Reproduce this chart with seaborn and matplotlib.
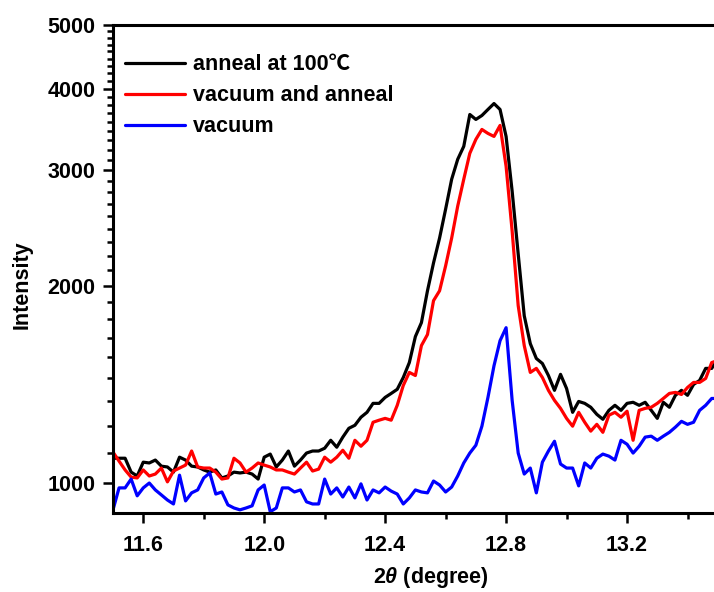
import numpy as np
import pandas as pd
import matplotlib
matplotlib.use("Agg")
import matplotlib.pyplot as plt
from matplotlib.ticker import FixedLocator, NullFormatter, MultipleLocator, FormatStrFormatter
import seaborn as sns

# Scan angles (2-theta, degree), 0.02 step
two_theta = np.round(np.linspace(11.5, 13.5, 101), 2)

anneal = [1091, 1091, 1091, 1039, 1025, 1076, 1073, 1084, 1061, 1058,
          1039, 1095, 1084, 1061, 1058, 1047, 1039, 1047, 1018, 1025,
          1039, 1036, 1039, 1032, 1014, 1095, 1107, 1058, 1084, 1119,
          1061, 1084, 1111, 1119, 1119, 1130, 1162, 1134, 1175, 1212,
          1225, 1260, 1282, 1323, 1323, 1351, 1370, 1390, 1449, 1527,
          1673, 1757, 1965, 2167, 2365, 2618, 2908, 3119, 3264, 3651,
          3588, 3638, 3716, 3794, 3716, 3380, 2789, 2237, 1800, 1632,
          1549, 1522, 1459, 1385, 1465, 1394, 1282, 1332, 1323, 1305,
          1273, 1251, 1291, 1314, 1291, 1323, 1328, 1314, 1328, 1291,
          1255, 1328, 1305, 1361, 1385, 1361, 1414, 1434, 1496, 1496,
          1549]

vacuum_anneal = [1115, 1080, 1047, 1021, 1018, 1047, 1025, 1032, 1054, 1004,
                 1043, 1054, 1065, 1119, 1058, 1054, 1054, 1039, 1014, 1018,
                 1091, 1073, 1039, 1054, 1073, 1065, 1058, 1047, 1047, 1039,
                 1032, 1054, 1076, 1043, 1050, 1095, 1076, 1095, 1122, 1091,
                 1162, 1138, 1162, 1238, 1247, 1255, 1247, 1314, 1409, 1475,
                 1459, 1621, 1685, 1898, 1965, 2145, 2365, 2646, 2908, 3185,
                 3345, 3464, 3416, 3380, 3513, 3043, 2424, 1865, 1621, 1475,
                 1496, 1449, 1385, 1337, 1300, 1255, 1221, 1282, 1238, 1200,
                 1229, 1195, 1269, 1282, 1260, 1287, 1162, 1291, 1300, 1305,
                 1323, 1346, 1370, 1375, 1365, 1399, 1424, 1424, 1444, 1527,
                 1538]

vacuum = [910, 983, 983, 1014, 956, 983, 1000, 976, 959, 942,
          929, 1028, 939, 966, 976, 1018, 1036, 962, 969, 926,
          916, 910, 916, 923, 976, 993, 904, 916, 983, 983,
          969, 976, 936, 929, 929, 1014, 962, 983, 952, 986,
          949, 997, 942, 976, 966, 986, 972, 962, 929, 949,
          976, 969, 966, 1007, 993, 969, 986, 1025, 1073, 1111,
          1142, 1221, 1351, 1510, 1649, 1726, 1337, 1111, 1032, 1054,
          966, 1076, 1119, 1158, 1069, 1054, 1054, 990, 1073, 1054,
          1091, 1107, 1099, 1084, 1162, 1146, 1111, 1138, 1175, 1179,
          1162, 1179, 1195, 1217, 1242, 1229, 1238, 1291, 1314, 1346,
          1346]

labels = ["anneal at 100℃", "vacuum and anneal", "vacuum"]
colors = ["#000000", "#ff0000", "#0000ff"]
y_major = [1000, 2000, 3000, 4000, 5000]
x_major = [11.6, 12.0, 12.4, 12.8, 13.2]

df = pd.concat([
    pd.DataFrame({"two_theta": two_theta, "intensity": vals, "sample": lab})
    for vals, lab in zip([anneal, vacuum_anneal, vacuum], labels)
], ignore_index=True)

sns.set_theme(style="ticks")
plt.rcParams["font.family"] = ["Liberation Sans", "Noto Sans CJK SC", "DejaVu Sans"]
plt.rcParams["font.weight"] = "bold"
plt.rcParams["text.color"] = "black"
plt.rcParams["axes.labelcolor"] = "black"
plt.rcParams["xtick.color"] = "black"
plt.rcParams["ytick.color"] = "black"
plt.rcParams["mathtext.fontset"] = "custom"
plt.rcParams["mathtext.it"] = "Liberation Sans:italic:bold"
plt.rcParams["mathtext.rm"] = "Liberation Sans:bold"

FS = 15.5
fig = plt.figure(figsize=(7.14, 5.92), dpi=100)
ax = fig.add_axes([113 / 714, 79 / 592, 635 / 714, 488 / 592])

sns.lineplot(data=df, x="two_theta", y="intensity", hue="sample",
             hue_order=labels, palette=dict(zip(labels, colors)),
             estimator=None, sort=False, linewidth=2.3, ax=ax)

ax.set_yscale("log")
ax.set_xlim(11.5, 13.6)
ax.set_ylim(900, 5000)

ax.yaxis.set_major_locator(FixedLocator(y_major))
ax.yaxis.set_major_formatter(FormatStrFormatter("%d"))
minor = []
for lo, hi in zip(y_major[:-1], y_major[1:]):
    minor += list(np.linspace(lo, hi, 10)[1:-1])
ax.yaxis.set_minor_locator(FixedLocator(minor))
ax.yaxis.set_minor_formatter(NullFormatter())

ax.xaxis.set_major_locator(FixedLocator(x_major))
ax.xaxis.set_minor_locator(MultipleLocator(0.2))
ax.xaxis.set_major_formatter(FormatStrFormatter("%.1f"))

for side in ["left", "bottom", "top"]:
    ax.spines[side].set_linewidth(2.2)
    ax.spines[side].set_color("black")
ax.spines["right"].set_visible(False)

ax.tick_params(axis="both", which="major", direction="out", length=7.5,
               width=1.8, labelsize=FS, colors="black")
ax.tick_params(axis="x", which="major", pad=8)
ax.tick_params(axis="y", which="major", pad=5)
ax.tick_params(axis="both", which="minor", direction="out", length=4.5,
               width=1.8, colors="black")
ax.tick_params(top=False, right=False, which="both")
for t in ax.get_xticklabels() + ax.get_yticklabels():
    t.set_fontweight("bold")

ax.set_xlabel(r"2$\theta$ (degree)", fontsize=FS, fontweight="bold", labelpad=7)
ax.set_ylabel("Intensity", fontsize=FS, fontweight="bold")
ax.yaxis.set_label_coords(-0.126, 0.467)

handles, labs = ax.get_legend_handles_labels()
ax.legend(handles, labs, loc="upper left", bbox_to_anchor=(0.019, 0.940),
          frameon=False, borderpad=0, borderaxespad=0, handlelength=2.8,
          handletextpad=0.34, labelspacing=0.46,
          prop={"weight": "bold", "size": FS})

fig.savefig("out.png", dpi=100)
